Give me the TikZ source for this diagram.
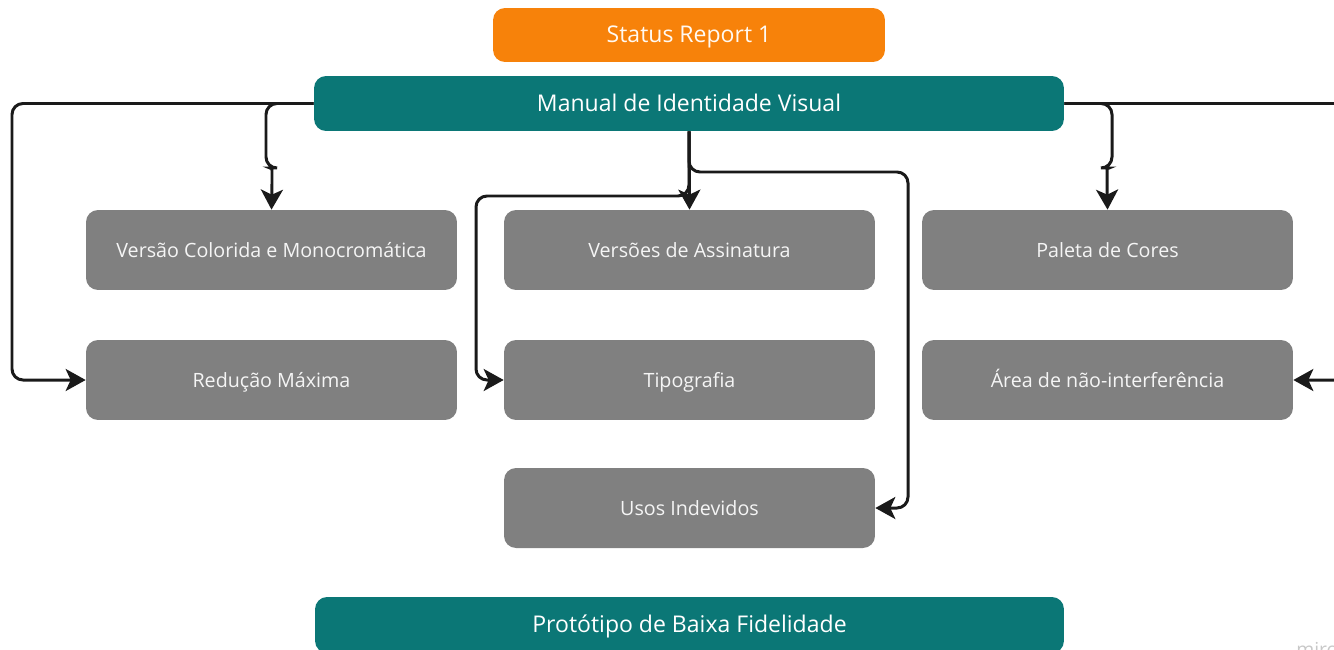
\documentclass[tikz,border=0pt]{standalone}
\usepackage{fontspec}
\setmainfont{Open Sans}
\usetikzlibrary{arrows.meta}
\definecolor{orangebox}{HTML}{F7820A}
\definecolor{tealbox}{HTML}{0B7776}
\definecolor{graybox}{HTML}{808080}
\definecolor{linec}{HTML}{1A1A1A}
\definecolor{wm}{HTML}{C8C8C8}
\tikzset{
  base/.style={rounded corners=0.24cm, inner sep=0pt, text=white, align=center, text height=2.05ex, text depth=0.45ex},
  orangeb/.style={base, fill=orangebox, minimum width=7.84cm, minimum height=1.08cm, font=\fontsize{13.1pt}{15pt}\selectfont, text=white!95!orange},
  tealb/.style={base, fill=tealbox, minimum width=15cm, minimum height=1.1cm, font=\fontsize{13.1pt}{15pt}\selectfont},
  grayb/.style={base, fill=graybox, minimum width=7.42cm, minimum height=1.6cm, font=\fontsize{11.2pt}{13pt}\selectfont, text=white!96!black},
  conn/.style={draw=linec, line width=1.7pt, rounded corners=0.22cm, -{Stealth[length=0.4cm,width=0.44cm,inset=0.1cm]}}
}
\begin{document}
\begin{tikzpicture}[x=0.02cm,y=-0.02cm]
\useasboundingbox (0,0) rectangle (1334,649);
\clip (0,0) rectangle (1334,649);
\node[orangeb] (status) at (689,35) {Status Report 1};
\node[tealb] (manual) at (689,103.5) {Manual de Identidade Visual};
\node[grayb] (vcm) at (271.5,250) {Versão Colorida e Monocromática};
\node[grayb] (vas) at (689.5,250) {Versões de Assinatura};
\node[grayb] (pal) at (1107.5,250) {Paleta de Cores};
\node[grayb] (red) at (271.5,380) {Redução Máxima};
\node[grayb] (tipo) at (689.5,380) {Tipografia};
\node[grayb] (area) at (1107.5,380) {Área de não-interferência};
\node[grayb] (usos) at (689.5,508) {Usos Indevidos};
\node[tealb, minimum width=14.98cm, minimum height=1.12cm] (proto) at (689.5,625) {Protótipo de Baixa Fidelidade};
\node[anchor=base west, text=wm, font=\fontsize{11pt}{12pt}\selectfont, inner sep=0pt] (miro) at (1296,656) {miro};
\coordinate (lc) at (12,380);
\coordinate (lb) at (266,168);
\coordinate (lbj) at (272,185);
\coordinate (tc) at (476,196);
\coordinate (uc) at (908,172);
\coordinate (rc) at (1348,380);
\coordinate (rb) at (1112,168);
\coordinate (rbj) at (1107,185);
\draw[conn] (manual.west) -| (lb) [rounded corners=0.04cm] -| (lbj) -- (vcm.north);
\draw[conn] (manual.west) -| (lc) -- (red.west);
\draw[conn] (manual.south) -- (vas.north);
\draw[conn] (manual.south) |- (uc) |- (usos.east);
\draw[conn] (manual.south) |- (tc) |- (tipo.west);
\draw[conn] (manual.east) -| (rb) [rounded corners=0.04cm] -| (rbj) -- (pal.north);
\draw[conn] (manual.east) -| (rc) -- (area.east);
\end{tikzpicture}
\end{document}
